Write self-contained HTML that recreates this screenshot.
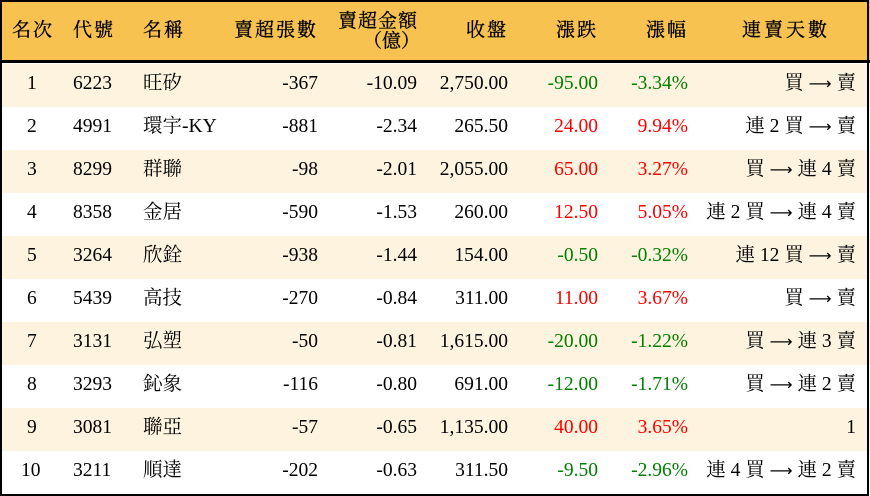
<!DOCTYPE html>
<html><head><meta charset="utf-8"><style>
*{margin:0;padding:0;box-sizing:border-box}
body{width:870px;height:496px;background:#fff;overflow:hidden;position:relative;font-family:"Liberation Serif","Noto Serif CJK SC","Noto Sans CJK TC",serif;font-size:19.5px;color:#000}
#frame{position:absolute;left:0;top:0;width:869px;height:496px;border:2px solid #000}
.hdr{position:absolute;left:0;top:0;width:870px;height:63px;background:#f8c250;border-bottom:3px solid #000}
.row{position:absolute;left:0;width:870px;height:43px}
.c{position:absolute;white-space:nowrap;line-height:20px}
.r{text-align:right}
.g{color:#008000}.red{color:#f00}
.a{font-family:"DejaVu Sans",sans-serif;font-size:16px}
.h{font-size:19px;-webkit-text-stroke:0.3px #000}
</style></head><body>
<div class="hdr"></div>
<div id="rows"></div>
<div id="frame"></div>
<script>
const H=[["名次",12,null],["代號",73,null],["名稱",143,null],["賣超張數",null,318],["收盤",null,508],["漲跌",null,598],["漲幅",null,688]];
let s='';
for(const [t,l,r] of H){s+=`<div class="c h" style="top:21px;${l!=null?'left:'+l+'px':'right:'+(870-r)+'px'};letter-spacing:2px">${t}</div>`}
s+=`<div class="c h" style="top:12px;right:452px;letter-spacing:1px">賣超金額</div><div class="c h" style="top:32px;left:363px">（億）</div>`;
s+=`<div class="c h" style="top:21px;left:742px;letter-spacing:3px">連賣天數</div>`;
const D=[
[1,6223,"旺矽",-367,"-10.09","2,750.00","-95.00","-3.34%","買 → 賣"],
[2,4991,"環宇-KY",-881,"-2.34","265.50","24.00","9.94%","連 2 買 → 賣"],
[3,8299,"群聯",-98,"-2.01","2,055.00","65.00","3.27%","買 → 連 4 賣"],
[4,8358,"金居",-590,"-1.53","260.00","12.50","5.05%","連 2 買 → 連 4 賣"],
[5,3264,"欣銓",-938,"-1.44","154.00","-0.50","-0.32%","連 12 買 → 賣"],
[6,5439,"高技",-270,"-0.84","311.00","11.00","3.67%","買 → 賣"],
[7,3131,"弘塑",-50,"-0.81","1,615.00","-20.00","-1.22%","買 → 連 3 賣"],
[8,3293,"鈊象",-116,"-0.80","691.00","-12.00","-1.71%","買 → 連 2 賣"],
[9,3081,"聯亞",-57,"-0.65","1,135.00","40.00","3.65%","1"],
[10,3211,"順達",-202,"-0.63","311.50","-9.50","-2.96%","連 4 買 → 連 2 賣"]];
D.forEach((d,i)=>{
 const top=64+43*i;
 s+=`<div class="row" style="top:${top}px;background:${i%2==0?'#fdf3de':'#fff'}">`;
 const cl=d[6].startsWith('-')?'g':'red';
 s+=`<div class="c" style="top:10px;left:${d[0]<10?27:21}px">${d[0]}</div>`;
 s+=`<div class="c" style="top:10px;left:73px">${d[1]}</div>`;
 s+=`<div class="c" style="top:10px;left:143px">${d[2]}</div>`;
 s+=`<div class="c r" style="top:10px;right:552px">${d[3]}</div>`;
 s+=`<div class="c r" style="top:10px;right:453px">${d[4]}</div>`;
 s+=`<div class="c r" style="top:10px;right:362px">${d[5]}</div>`;
 s+=`<div class="c r ${cl}" style="top:10px;right:272px">${d[6]}</div>`;
 s+=`<div class="c r ${cl}" style="top:10px;right:182px">${d[7]}</div>`;
 s+=`<div class="c r" style="top:10px;right:14px">${d[8].split(' ').map(t=>t=='→'?'<span class="a">⟶</span>':t).join('&nbsp;')}</div>`;
 s+=`</div>`;
});
document.getElementById('rows').outerHTML=s;
</script>
</body></html>
